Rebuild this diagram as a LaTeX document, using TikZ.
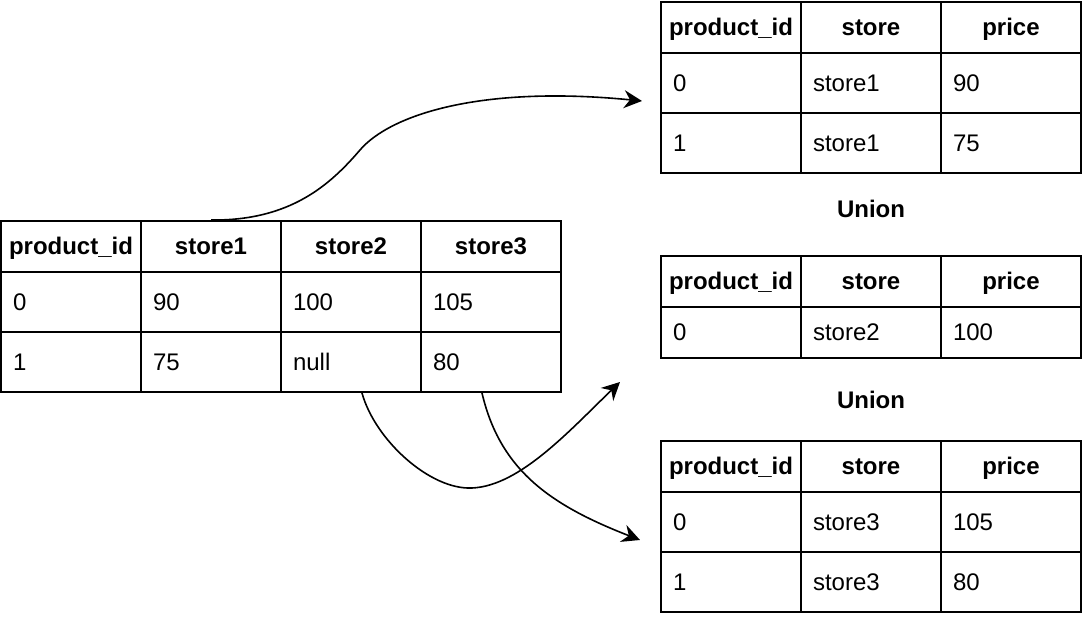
\documentclass[tikz,border=0pt]{standalone}
\usepackage{fontspec}
\setmainfont{Liberation Sans}
\usetikzlibrary{arrows.meta}

\begin{document}
\begin{tikzpicture}[x=0.5pt, y=-0.5pt,
    >={Stealth[length=9pt, width=9pt, inset=3pt]},
    box/.style={draw, rectangle, line width=1pt, minimum width=70pt, inner ysep=0pt, text height=10pt, text depth=1.5pt},
    cell/.style={box, inner xsep=6pt, text width=58pt, align=left, minimum height=30pt, font=\fontsize{12pt}{14pt}\selectfont},
    head/.style={box, inner xsep=2pt, minimum height=25.5pt, font=\fontsize{12pt}{14pt}\selectfont\bfseries},
    optext/.style={font=\fontsize{12pt}{14pt}\selectfont\bfseries},
    link/.style={->, line width=0.8pt}]
    \useasboundingbox (0,0) rectangle (1084,620);

    % wide table
    \node[head] (wh1) at (71,246.5) {product\_id};
    \node[head] (wh2) at (211,246.5) {store1};
    \node[head] (wh3) at (351,246.5) {store2};
    \node[head] (wh4) at (491,246.5) {store3};
    \node[cell] (wa1) at (71,302) {0};
    \node[cell] (wa2) at (211,302) {90};
    \node[cell] (wa3) at (351,302) {100};
    \node[cell] (wa4) at (491,302) {105};
    \node[cell] (wb1) at (71,362) {1};
    \node[cell] (wb2) at (211,362) {75};
    \node[cell] (wb3) at (351,362) {null};
    \node[cell] (wb4) at (491,362) {80};

    % store1
    \node[head] (xh1) at (731,27.5) {product\_id};
    \node[head] (xh2) at (871,27.5) {store};
    \node[head] (xh3) at (1011,27.5) {price};
    \node[cell] (xa1) at (731,83) {0};
    \node[cell] (xa2) at (871,83) {store1};
    \node[cell] (xa3) at (1011,83) {90};
    \node[cell] (xb1) at (731,143) {1};
    \node[cell] (xb2) at (871,143) {store1};
    \node[cell] (xb3) at (1011,143) {75};

    \node[optext] (u1) at (871,209) {Union};

    % store2
    \node[head] (yh1) at (731,281.5) {product\_id};
    \node[head] (yh2) at (871,281.5) {store};
    \node[head] (yh3) at (1011,281.5) {price};
    \node[cell, minimum height=25.5pt] (ya1) at (731,332.5) {0};
    \node[cell, minimum height=25.5pt] (ya2) at (871,332.5) {store2};
    \node[cell, minimum height=25.5pt] (ya3) at (1011,332.5) {100};

    \node[optext] (u2) at (871,400) {Union};

    % store3
    \node[head] (zh1) at (731,466.5) {product\_id};
    \node[head] (zh2) at (871,466.5) {store};
    \node[head] (zh3) at (1011,466.5) {price};
    \node[cell] (za1) at (731,522) {0};
    \node[cell] (za2) at (871,522) {store3};
    \node[cell] (za3) at (1011,522) {105};
    \node[cell] (zb1) at (731,582) {1};
    \node[cell] (zb2) at (871,582) {store3};
    \node[cell] (zb3) at (1011,582) {80};

    \coordinate (e1) at (642,101);
    \coordinate (e2) at (620,382);
    \coordinate (e3) at (640,540);

    \draw[link] (wh2.north) .. controls (290,221) and (330,185) .. (360,150)
        .. controls (390,115) and (480,85) .. (e1);
    \draw[link] ([xshift=5.5pt]wb3.south) .. controls (375,440) and (430,490) .. (472,488)
        .. controls (520,486) and (570,430) .. (e2);
    \draw[link] ([xshift=-4.5pt]wb4.south) .. controls (500,470) and (550,505) .. (e3);
  \end{tikzpicture}
\end{document}
